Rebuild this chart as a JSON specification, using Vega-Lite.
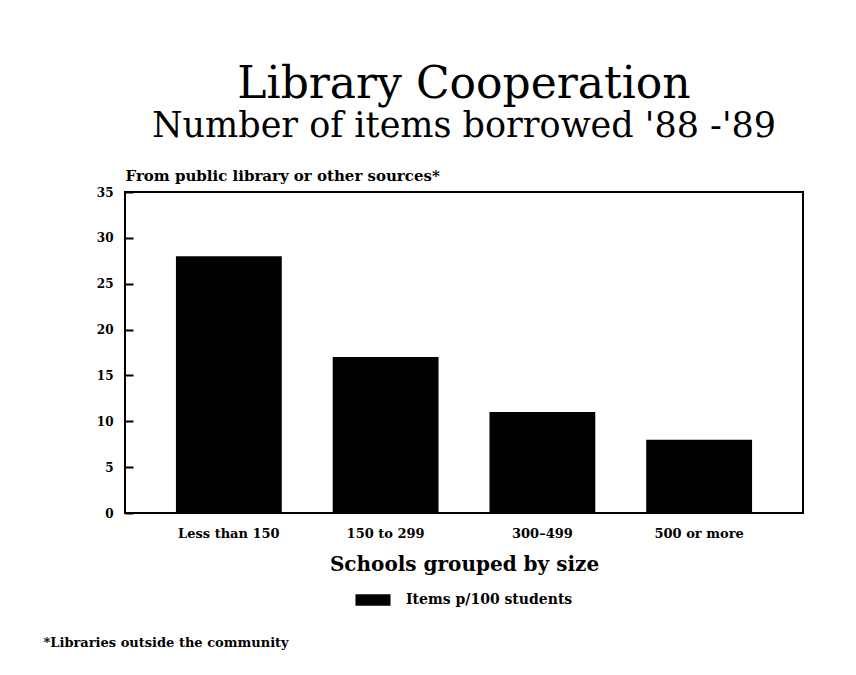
{
  "$schema": "https://vega.github.io/schema/vega-lite/v6.json",
  "autosize": {"type": "none"},
  "width": 678,
  "height": 321,
  "padding": {"left": 125, "top": 192, "right": 53, "bottom": 162},
  "background": "white",
  "title": {
    "text": "Library Cooperation",
    "subtitle": "Number of items borrowed '88 -'89",
    "font": "DejaVu Serif",
    "fontSize": 44,
    "fontWeight": "normal",
    "color": "black",
    "subtitleFont": "DejaVu Serif",
    "subtitleFontSize": 35,
    "subtitleColor": "black",
    "subtitlePadding": 2,
    "anchor": "middle",
    "offset": 24
  },
  "data": {
    "values": [
      {"size": "Less than 150", "items": 28, "series": "Items p/100 students"},
      {"size": "150 to 299", "items": 17, "series": "Items p/100 students"},
      {"size": "300\u2013499", "items": 11, "series": "Items p/100 students"},
      {"size": "500 or more", "items": 8, "series": "Items p/100 students"}
    ]
  },
  "layer": [
    {
      "mark": {"type": "bar"},
      "encoding": {
        "x": {
          "field": "size",
          "type": "nominal",
          "sort": null,
          "scale": {"paddingInner": 0.325, "paddingOuter": 0.325},
          "axis": {
            "title": "Schools grouped by size",
            "labelAngle": 0,
            "ticks": false,
            "domain": false,
            "grid": false,
            "labelPadding": 14,
            "labelFont": "DejaVu Serif",
            "labelFontWeight": "bold",
            "labelFontSize": 13,
            "labelColor": "black",
            "titleFont": "DejaVu Serif",
            "titleFontWeight": "bold",
            "titleFontSize": 20,
            "titleColor": "black",
            "titlePadding": 14
          }
        },
        "y": {
          "field": "items",
          "type": "quantitative",
          "scale": {"domain": [0, 35], "nice": false},
          "axis": {
            "values": [0, 5, 10, 15, 20, 25, 30, 35],
            "grid": false,
            "domain": false,
            "zindex": 2,
            "ticks": true,
            "tickSize": -8,
            "tickColor": "black",
            "tickWidth": 2,
            "labelPadding": 20,
            "labelFont": "DejaVu Serif",
            "labelFontWeight": "bold",
            "labelFontSize": 12,
            "labelColor": "black",
            "title": "From public library or other sources*",
            "titleAngle": 0,
            "titleAlign": "left",
            "titleBaseline": "alphabetic",
            "titleX": 0,
            "titleY": -12,
            "titleFont": "DejaVu Serif",
            "titleFontWeight": "bold",
            "titleFontSize": 15,
            "titleColor": "black"
          }
        },
        "color": {
          "field": "series",
          "type": "nominal",
          "scale": {"range": ["black"]},
          "legend": {
            "title": null,
            "orient": "none",
            "legendX": 236,
            "legendY": 396,
            "padding": 0,
            "symbolType": "M-1.5,-0.5L1.5,-0.5L1.5,0.5L-1.5,0.5Z",
            "symbolSize": 545,
            "symbolStrokeWidth": 0,
            "labelOffset": 21,
            "labelLimit": 400,
            "labelFont": "DejaVu Serif",
            "labelFontWeight": "bold",
            "labelFontSize": 14,
            "labelColor": "black"
          }
        }
      }
    },
    {
      "mark": {"type": "bar", "opacity": 0},
      "encoding": {
        "x": {"field": "size", "type": "nominal", "sort": null},
        "y": {
          "field": "items",
          "type": "quantitative",
          "axis": {
            "orient": "right",
            "labels": false,
            "ticks": false,
            "domain": false,
            "grid": false,
            "title": "*Libraries outside the community",
            "titleAngle": 0,
            "titleAlign": "left",
            "titleBaseline": "alphabetic",
            "titleX": -760,
            "titleY": 454,
            "titleFont": "DejaVu Serif",
            "titleFontWeight": "bold",
            "titleFontSize": 13,
            "titleColor": "black"
          }
        }
      }
    }
  ],
  "resolve": {"axis": {"y": "independent"}},
  "config": {
    "view": {"stroke": "black", "strokeWidth": 2},
    "font": "DejaVu Serif"
  }
}
